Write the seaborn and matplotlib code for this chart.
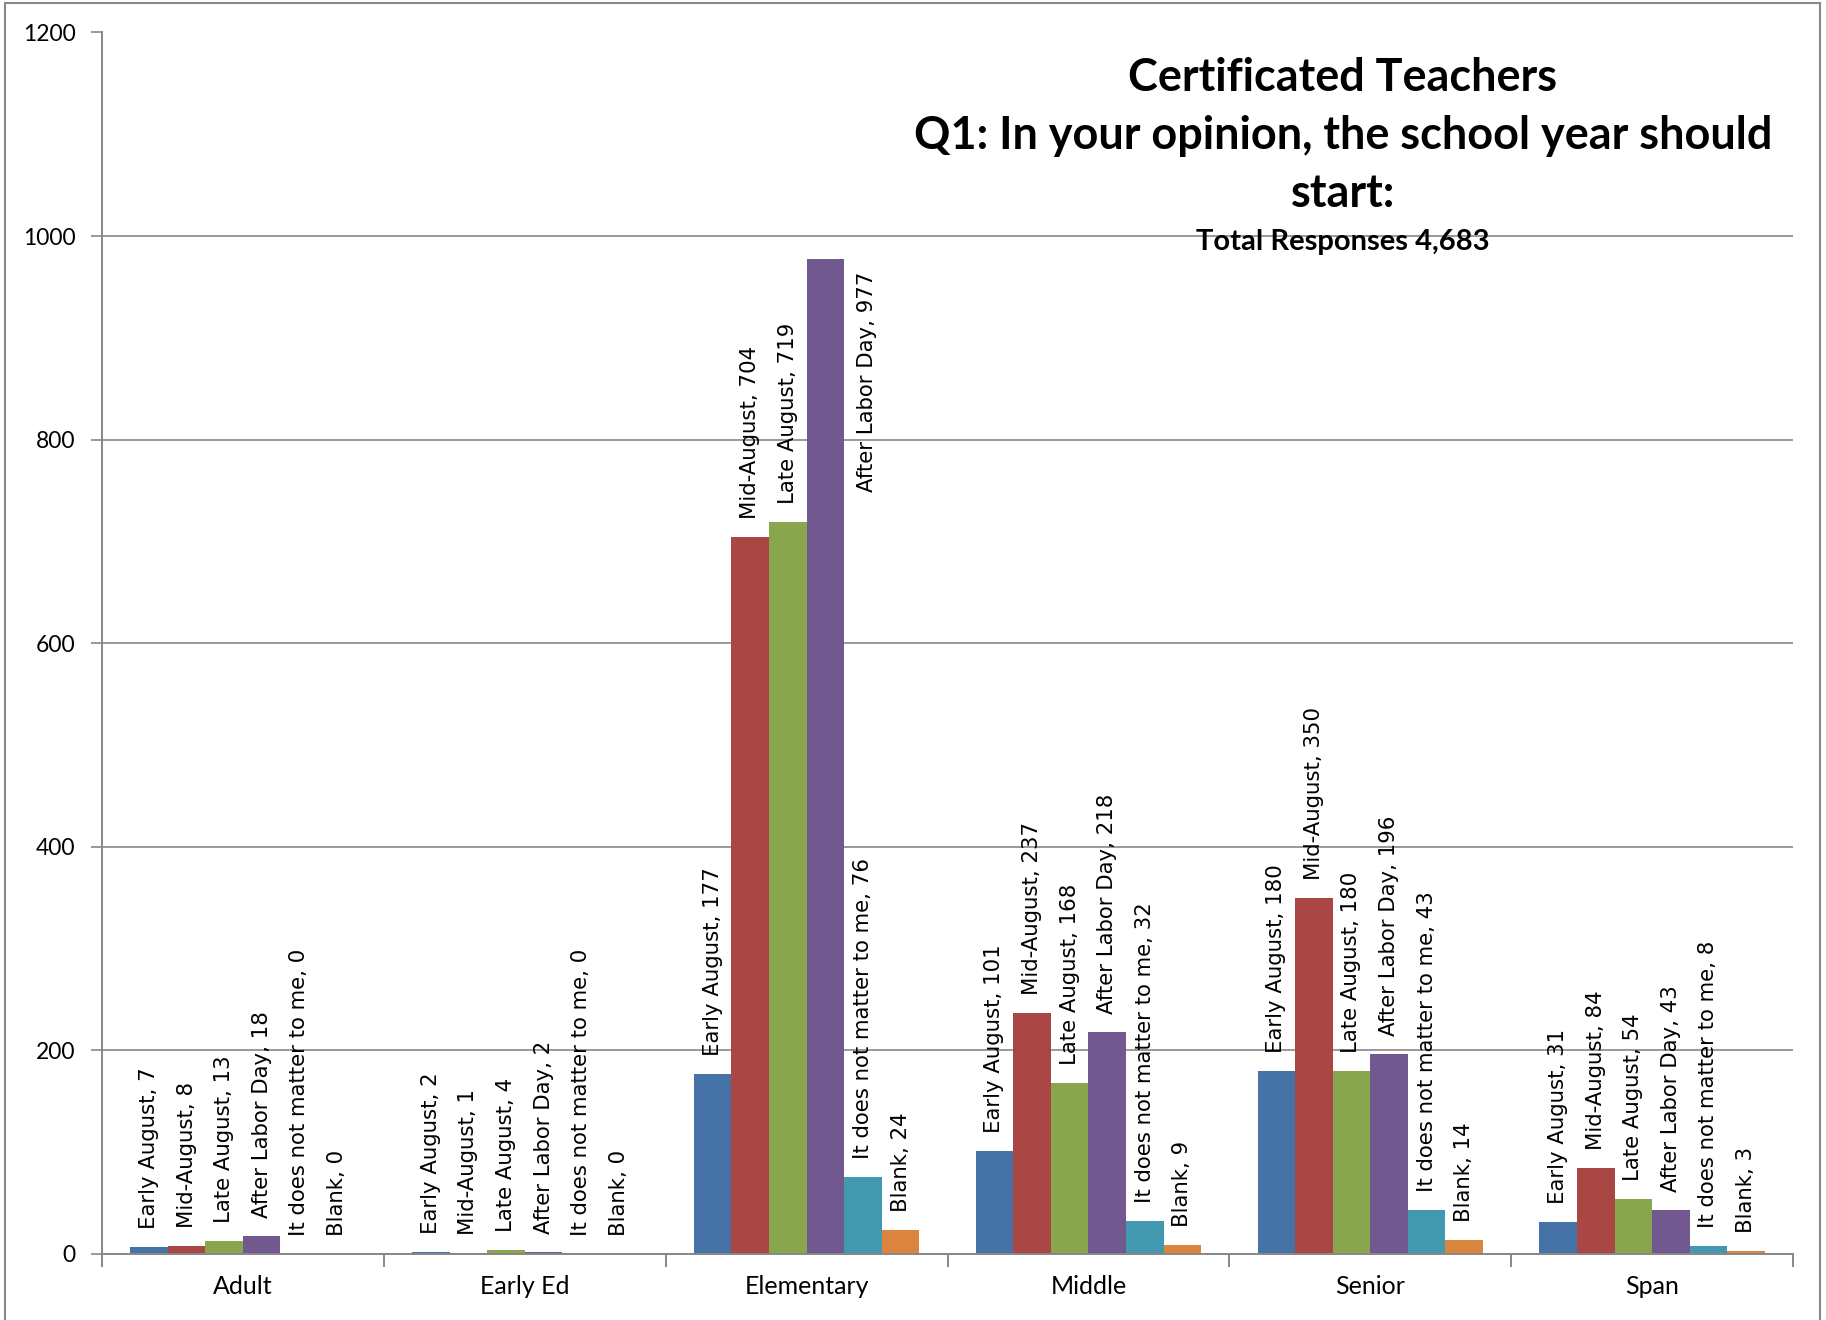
import matplotlib
matplotlib.use("Agg")
import matplotlib.pyplot as plt
import seaborn as sns
import pandas as pd
from matplotlib.patches import Rectangle

# ---------------- data ----------------
categories = ["Adult", "Early Ed", "Elementary", "Middle", "Senior", "Span"]
responses = ["Early August", "Mid-August", "Late August", "After Labor Day",
             "It does not matter to me", "Blank"]
early_august = [7, 2, 177, 101, 180, 31]
mid_august = [8, 1, 704, 237, 350, 84]
late_august = [13, 4, 719, 168, 180, 54]
after_labor_day = [18, 2, 977, 218, 196, 43]
does_not_matter = [0, 0, 76, 32, 43, 8]
blank = [0, 0, 24, 9, 14, 3]
colors = ["#4572A7", "#AA4643", "#89A54E", "#71588F", "#4198AF", "#DB843D"]
title_lines = ["Certificated Teachers",
               "Q1: In your opinion, the school year should",
               "start:"]
subtitle = "Total Responses 4,683"
yticks = [0, 200, 400, 600, 800, 1000, 1200]

series = [early_august, mid_august, late_august, after_labor_day, does_not_matter, blank]
rows = []
for resp, vals in zip(responses, series):
    for cat, v in zip(categories, vals):
        rows.append({"School": cat, "Response": resp, "Count": v})
df = pd.DataFrame(rows)

# ---------------- figure ----------------
sns.set_theme(style="white")
plt.rcParams["font.family"] = ["Lato", "DejaVu Sans"]

W, H = 1826, 1320
fig = plt.figure(figsize=(W / 100, H / 100), dpi=100)
ax = fig.add_axes([102 / W, 1 - 1254 / H, (1793 - 102) / W, (1254 - 32.5) / H])

sns.barplot(data=df, x="School", y="Count", hue="Response", order=categories,
            hue_order=responses, palette=colors, width=0.8, gap=0, saturation=1,
            errorbar=None, legend=False, linewidth=0, ax=ax)

grid_c = "#878787"
ax.set_ylim(0, 1200)
ax.set_xlim(-0.5, len(categories) - 0.5)
ax.set_yticks(yticks)
ax.set_yticklabels([str(t) for t in yticks], fontsize=16.5, color="black")
ax.yaxis.grid(True, color=grid_c, linewidth=1.2)
ax.set_axisbelow(True)
ax.set_xlabel("")
ax.set_ylabel("")
for s in ["top", "right"]:
    ax.spines[s].set_visible(False)
for s in ["left", "bottom"]:
    ax.spines[s].set_color(grid_c)
    ax.spines[s].set_linewidth(1.4)
ax.tick_params(axis="y", which="major", length=8, width=1.2, color=grid_c,
               direction="out", left=True, pad=11)
ax.tick_params(axis="x", which="major", length=0, labelsize=18, pad=15,
               labelcolor="black")
ax.set_xticks(range(len(categories)))
ax.set_xticklabels(categories)
ax.set_xticks([i - 0.5 for i in range(len(categories) + 1)], minor=True)
ax.tick_params(axis="x", which="minor", length=9, width=1.4, color=grid_c,
               direction="out", bottom=True)

# ---------------- data labels ----------------
fig.canvas.draw()
renderer = fig.canvas.get_renderer()
top_px = ax.transData.transform((0, ax.get_ylim()[1]))[1]
for resp, cont in zip(responses, ax.containers):
    for bar in cont:
        v = bar.get_height()
        xc = bar.get_x() + bar.get_width() / 2
        t = ax.annotate(f"{resp}, {int(round(v))}", xy=(xc, v), xytext=(0, 13),
                        textcoords="offset points", rotation=90, ha="center",
                        va="bottom", fontsize=15.3, family="DejaVu Sans",
                        color="black", annotation_clip=False)
        bb = t.get_window_extent(renderer)
        if bb.y1 > top_px:
            t.xy = (xc + bar.get_width(), v)
            t.set_position((3, -9))
            t.set_va("top")

# ---------------- title ----------------
tx = 1343 / W
for line, yp in zip(title_lines, [78, 136, 194]):
    fig.text(tx, 1 - yp / H, line, ha="center", va="center", fontsize=32.4,
             fontweight="bold", color="black")
fig.text(tx, 1 - 242 / H, subtitle, ha="center", va="center", fontsize=21,
         fontweight="bold", color="black")

# outer chart border
fig.patches.append(Rectangle((5 / W, -0.01), (1820 - 5) / W, 1.01 - 3 / H,
                             transform=fig.transFigure, fill=False,
                             edgecolor="#8a8a8a", linewidth=1.5))

fig.savefig("out.png", dpi=100)
